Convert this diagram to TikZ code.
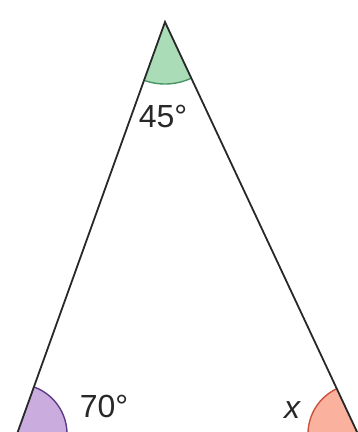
\documentclass[tikz,border=0pt]{standalone}
\usepackage{fontspec}
\setmainfont{Liberation Sans}
\definecolor{lineGray}{RGB}{40,40,40}
\definecolor{angGreen}{RGB}{170,220,183}
\definecolor{angGreenDark}{RGB}{70,150,100}
\definecolor{angPurple}{RGB}{203,172,222}
\definecolor{angPurpleDark}{RGB}{95,60,135}
\definecolor{angRed}{RGB}{250,178,158}
\definecolor{angRedDark}{RGB}{205,80,60}

\begin{document}
\begin{tikzpicture}[x=1pt,y=-1pt,
        side/.style={draw=lineGray,line width=1.8pt,line join=miter},
        rim/.style={line width=1.4pt},
        lbl/.style={font=\fontsize{32}{34}\selectfont,text=lineGray,inner sep=0pt}
      ]
        \useasboundingbox (0,0) rectangle (358,432);
        \clip (0,0) rectangle (358,432);
        \coordinate (top) at (165,22);
        \coordinate (left) at (17,434);
        \coordinate (right) at (358,434);

        % angle sectors
        \fill[angGreen] (top) -- ++(65:62) arc[start angle=65,end angle=110,radius=62] -- cycle;
        \draw[rim,angGreenDark] (top) ++(65:62) arc[start angle=65,end angle=110,radius=62];
        \fill[angPurple] (left) -- ++(-70:50) arc[start angle=-70,end angle=0,radius=50] -- cycle;
        \draw[rim,angPurpleDark] (left) ++(-70:50) arc[start angle=-70,end angle=0,radius=50];
        \fill[angRed] (right) -- ++(180:50) arc[start angle=180,end angle=245,radius=50] -- cycle;
        \draw[rim,angRedDark] (right) ++(180:50) arc[start angle=180,end angle=245,radius=50];

        % triangle
        \draw[side] (left) -- (top) -- (right);

        \node[lbl] (topAngle) at (163,116) {45°};
        \node[lbl] (leftAngle) at (104,406) {70°};
        \node[lbl] (rightAngle) at (292,410) {\itshape x};
      \end{tikzpicture}
\end{document}
